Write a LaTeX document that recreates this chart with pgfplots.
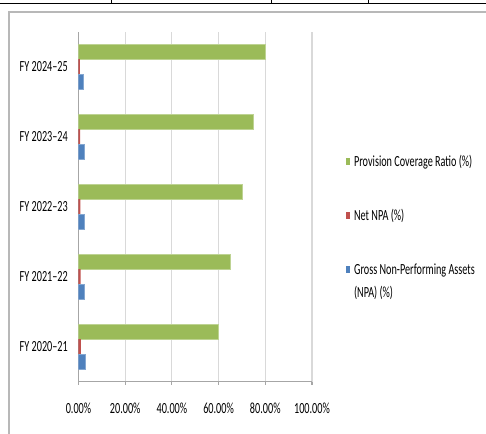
\documentclass[border=0pt]{standalone}
\usepackage{fontspec}
\setmainfont[FakeStretch=0.66]{Carlito}
\usepackage{pgfplots}
\pgfplotsset{compat=1.18}
\definecolor{pcr}{HTML}{9BBB59}
\definecolor{nnpa}{HTML}{C0504D}
\definecolor{gnpa}{HTML}{4F81BD}
\definecolor{gridc}{HTML}{D9D9D9}
\definecolor{axisc}{HTML}{A6A6A6}
\begin{document}
\fontsize{11.6pt}{14pt}\selectfont
\begin{tikzpicture}[x=0.75pt,y=0.75pt]
\useasboundingbox (0,0) rectangle (486,434);
% rule of the table above the chart
\draw[line width=1.2pt] (0,430.6) -- (486,430.6);
\foreach \xx in {111.7,271.7,368.3} \draw[line width=0.9pt] (\xx,435) -- (\xx,430.6);
% chart area frame
\draw[color=black!28, line width=1.5pt] (8.5,-2) -- (8.5,421.5) -- (490,421.5);
\begin{axis}[
  at={(58.875pt,39.225pt)}, anchor=south west,
  scale only axis, width=175.1pt, height=262.5pt,
  xbar, bar width=11.25pt,
  xmin=0, xmax=100, ymin=-0.5, ymax=4.5,
  axis x line*=bottom, axis y line*=left,
  axis line style={-, draw=axisc, line width=0.8pt},
  xtick={0,20,...,100},
  xticklabels={0.00\%,20.00\%,40.00\%,60.00\%,80.00\%,100.00\%},
  ytick={0,...,4},
  yticklabels={FY 2020--21,FY 2021--22,FY 2022--23,FY 2023--24,FY 2024--25},
  xmajorgrids, grid style={draw=gridc, line width=0.9pt},
  tick align=outside, major tick length=2.4pt,
  x tick style={draw=axisc, line width=0.8pt},
  ytick style={draw=none},
  extra y ticks={-0.5,0.5,...,4.5}, extra y tick labels={},
  extra y tick style={grid=none, tick style={draw=axisc, line width=0.8pt}},
  yticklabel style={anchor=east, inner sep=0pt, xshift=-5.4pt},
  xticklabel style={anchor=north, inner sep=0pt, yshift=-13.7pt},
  legend cell align=left,
  legend image code/.code={\draw[#1, draw=none] (0pt,-2.6pt) rectangle (3pt,2.6pt);},
  legend style={at={(1.1478,0.649)}, anchor=north west, draw=none, fill=none,
    inner sep=0pt, outer sep=0pt, row sep=29.9pt, column sep=2.7pt,
    nodes={inner sep=0pt, text height=9pt, text depth=1.5pt}},
]
\addplot[fill=pcr, draw=pcr!65!white, line width=0.4pt, bar shift=11.25pt]
  coordinates {(60,0) (65,1) (70,2) (75,3) (80,4)};
\addlegendentry{Provision Coverage Ratio (\%)}
\addplot[fill=nnpa, draw=none, bar shift=0pt]
  coordinates {(1.0,0) (0.9,1) (0.8,2) (0.7,3) (0.6,4)};
\addlegendentry{Net NPA (\%)}
\addplot[fill=gnpa, draw=gnpa!70!white, line width=0.4pt, bar shift=-11.25pt]
  coordinates {(2.7,0) (2.5,1) (2.4,2) (2.3,3) (2.1,4)};
\addlegendentry{\raisebox{0pt}[\height][0pt]{\vtop{\baselineskip=17.5pt\hbox{Gross Non-Performing Assets}\hbox{(NPA) (\%)}}}}
\end{axis}
\end{tikzpicture}
\end{document}
